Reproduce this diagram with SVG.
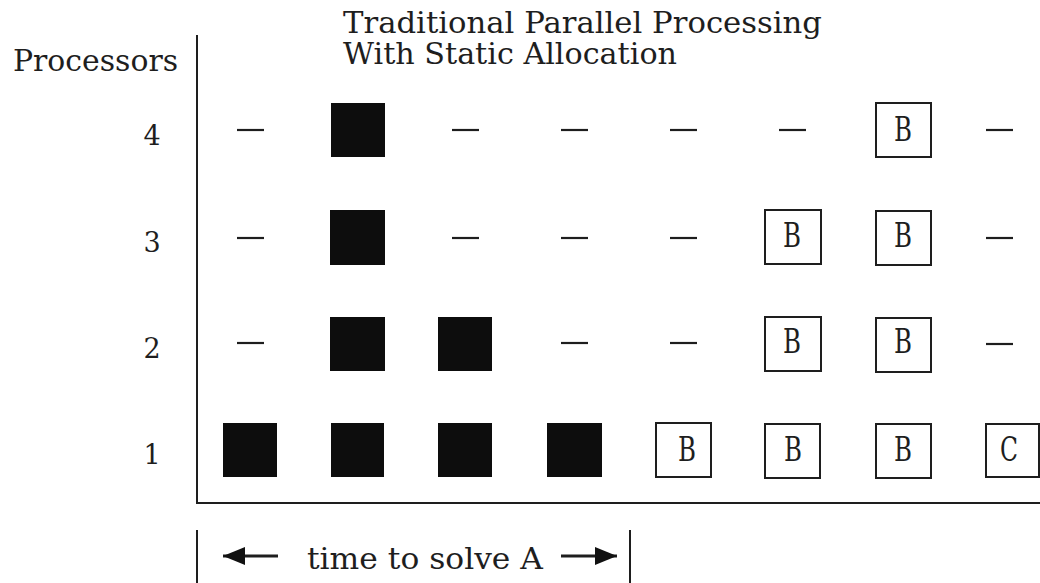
<svg xmlns="http://www.w3.org/2000/svg" width="1040" height="583" viewBox="0 0 1040 583">
  <style>
    .txt { font-family: "DejaVu Serif", "Liberation Serif", serif; fill: #1e1e1e; }
    .title { font-size: 29px; }
    .lbl { font-size: 27px; text-anchor: middle; }
    .cell { font-size: 33px; text-anchor: middle; }
    .axis { stroke: #1e1e1e; stroke-width: 2; fill: none; }
    .dash { stroke: #1e1e1e; stroke-width: 2.2; }
    .busy { fill: #0d0d0d; }
    .task { fill: #fff; stroke: #1e1e1e; stroke-width: 2; }
    .arrow { stroke: #1e1e1e; stroke-width: 2.8; fill: none; }
  </style>
  <defs>
    <marker id="head" markerUnits="userSpaceOnUse" markerWidth="24" markerHeight="20" refX="22" refY="9" orient="auto">
      <path d="M0,0 L22,9 L0,18 Z" fill="#111"/>
    </marker>
  </defs>

  <rect width="1040" height="583" fill="#fff"/>

  <!-- headings -->
  <g id="title">
    <text class="txt title" x="343" y="33" textLength="479" lengthAdjust="spacingAndGlyphs">Traditional Parallel Processing</text>
    <text class="txt title" x="343" y="64" textLength="334" lengthAdjust="spacingAndGlyphs">With Static Allocation</text>
  </g>
  <g id="y-label">
    <text class="txt title" x="13" y="71" textLength="165" lengthAdjust="spacingAndGlyphs">Processors</text>
  </g>

  <!-- processor numbers -->
  <g id="row-labels">
    <text class="txt lbl" x="152" y="145">4</text>
    <text class="txt lbl" x="152" y="252">3</text>
    <text class="txt lbl" x="152" y="358">2</text>
    <text class="txt lbl" x="152" y="464">1</text>
  </g>

  <!-- axes -->
  <g id="axes">
    <line class="axis" x1="197" y1="35" x2="197" y2="504"/>
    <line class="axis" x1="196" y1="503" x2="1040" y2="503"/>
    <line class="axis" x1="197" y1="530" x2="197" y2="583"/>
    <line class="axis" x1="630" y1="530" x2="630" y2="583"/>
  </g>

  <!-- processor 4 -->
  <g id="p4">
    <line class="dash" x1="237" y1="130" x2="264" y2="130"/>
    <rect class="busy" x="331" y="103" width="54" height="54"/>
    <line class="dash" x1="452" y1="130" x2="479" y2="130"/>
    <line class="dash" x1="561" y1="130" x2="588" y2="130"/>
    <line class="dash" x1="670" y1="130" x2="697" y2="130"/>
    <line class="dash" x1="779" y1="130" x2="806" y2="130"/>
    <g id="p4-b7">
      <rect class="task" x="876" y="103" width="55" height="54"/>
      <text class="txt cell" x="903" y="141" textLength="18" lengthAdjust="spacingAndGlyphs">B</text>
    </g>
    <line class="dash" x1="986" y1="130" x2="1013" y2="130"/>
  </g>

  <!-- processor 3 -->
  <g id="p3">
    <line class="dash" x1="237" y1="238" x2="264" y2="238"/>
    <rect class="busy" x="330" y="210" width="55" height="55"/>
    <line class="dash" x1="452" y1="238" x2="479" y2="238"/>
    <line class="dash" x1="561" y1="238" x2="588" y2="238"/>
    <line class="dash" x1="670" y1="238" x2="697" y2="238"/>
    <g id="p3-b6">
      <rect class="task" x="765" y="210" width="56" height="54"/>
      <text class="txt cell" x="792" y="247" textLength="18" lengthAdjust="spacingAndGlyphs">B</text>
    </g>
    <g id="p3-b7">
      <rect class="task" x="876" y="211" width="55" height="54"/>
      <text class="txt cell" x="903" y="247" textLength="18" lengthAdjust="spacingAndGlyphs">B</text>
    </g>
    <line class="dash" x1="986" y1="238" x2="1013" y2="238"/>
  </g>

  <!-- processor 2 -->
  <g id="p2">
    <line class="dash" x1="237" y1="343" x2="264" y2="343"/>
    <rect class="busy" x="330" y="317" width="55" height="54"/>
    <rect class="busy" x="438" y="317" width="54" height="54"/>
    <line class="dash" x1="561" y1="343" x2="588" y2="343"/>
    <line class="dash" x1="670" y1="343" x2="697" y2="343"/>
    <g id="p2-b6">
      <rect class="task" x="765" y="317" width="56" height="54"/>
      <text class="txt cell" x="792" y="353" textLength="18" lengthAdjust="spacingAndGlyphs">B</text>
    </g>
    <g id="p2-b7">
      <rect class="task" x="876" y="318" width="55" height="54"/>
      <text class="txt cell" x="903" y="353" textLength="18" lengthAdjust="spacingAndGlyphs">B</text>
    </g>
    <line class="dash" x1="986" y1="344" x2="1013" y2="344"/>
  </g>

  <!-- processor 1 -->
  <g id="p1">
    <rect class="busy" x="223" y="423" width="54" height="54"/>
    <rect class="busy" x="331" y="423" width="53" height="54"/>
    <rect class="busy" x="438" y="423" width="54" height="54"/>
    <rect class="busy" x="547" y="423" width="55" height="54"/>
    <g id="p1-b5">
      <rect class="task" x="656" y="423" width="55" height="54"/>
      <text class="txt cell" x="687" y="461" textLength="18" lengthAdjust="spacingAndGlyphs">B</text>
    </g>
    <g id="p1-b6">
      <rect class="task" x="765" y="424" width="55" height="54"/>
      <text class="txt cell" x="793" y="461" textLength="18" lengthAdjust="spacingAndGlyphs">B</text>
    </g>
    <g id="p1-b7">
      <rect class="task" x="876" y="424" width="55" height="54"/>
      <text class="txt cell" x="903" y="461" textLength="18" lengthAdjust="spacingAndGlyphs">B</text>
    </g>
    <g id="p1-c8">
      <rect class="task" x="986" y="424" width="53" height="53"/>
      <text class="txt cell" x="1009" y="461" textLength="18" lengthAdjust="spacingAndGlyphs">C</text>
    </g>
  </g>

  <!-- span of job A -->
  <g id="connectors">
    <line class="arrow" x1="278" y1="556" x2="223" y2="556" marker-end="url(#head)"/>
    <line class="arrow" x1="561" y1="556" x2="617" y2="556" marker-end="url(#head)"/>
  </g>
  <g id="time-label">
    <text class="txt title" x="307" y="569" textLength="236" lengthAdjust="spacingAndGlyphs">time to solve A</text>
  </g>
</svg>
